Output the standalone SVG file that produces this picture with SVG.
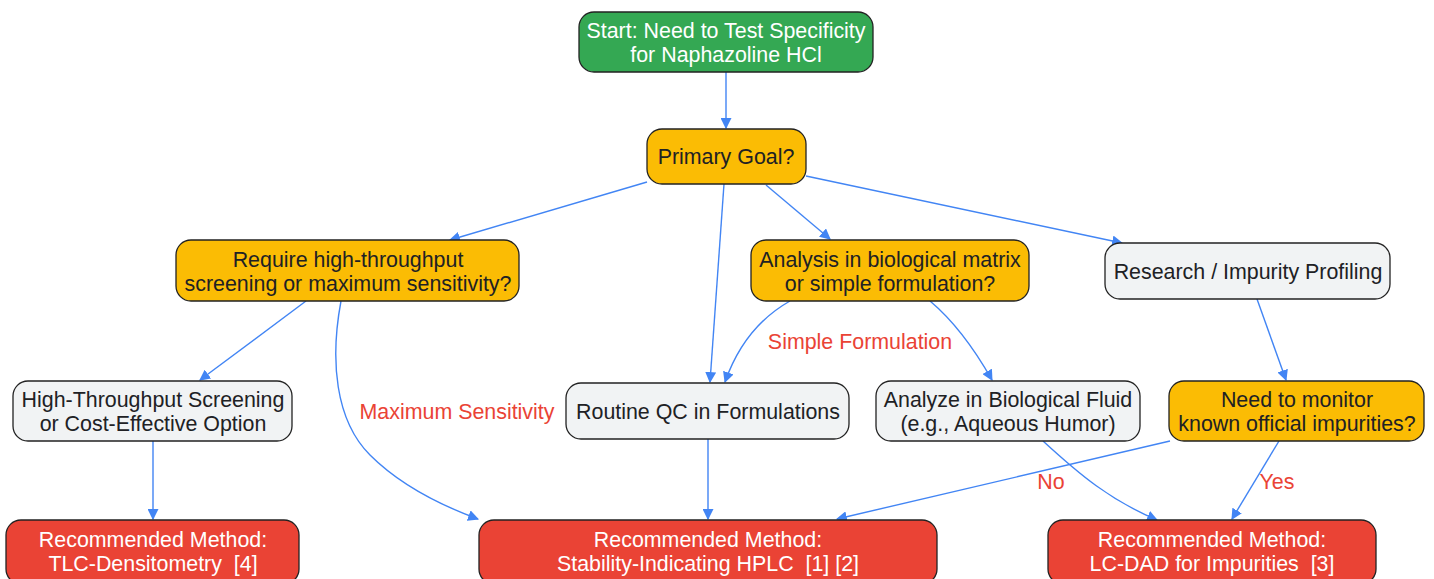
<svg xmlns="http://www.w3.org/2000/svg" width="1434" height="579" viewBox="0 0 1434 579">
<style>
.n{stroke:#222;stroke-width:1.3}
.g{fill:#34a853}.y{fill:#fbbc04}.w{fill:#f1f3f4}.r{fill:#ea4335}
text{font-family:"Liberation Sans",Arial,sans-serif;font-size:21.4px;text-anchor:middle}
.dk{fill:#202124}.lt{fill:#ffffff}
.e{fill:none;stroke:#4285f4;stroke-width:1.4;marker-end:url(#a)}
.lb{fill:#ea4335}
</style>
<defs>
<marker id="a" viewBox="0 0 10 10" refX="9" refY="5" markerWidth="11" markerHeight="11" markerUnits="userSpaceOnUse" orient="auto">
<path d="M0,0 L10,5 L0,10 z" fill="#4285f4"/>
</marker>
</defs>
<g id="connectors">
<path class="e" d="M726,72 L726,128"/>
<path class="e" d="M647,182 L450,240"/>
<path class="e" d="M724,184 L710,382"/>
<path class="e" d="M766,185 L830,239"/>
<path class="e" d="M806,176 L1122,243"/>
<path class="e" d="M306,301 L200,380"/>
<path class="e" d="M341,301 C330,360 335,420 370,455 C400,485 440,505 478,519"/>
<path class="e" d="M790,301 C760,318 738,345 725,382"/>
<path class="e" d="M930,301 C955,322 975,350 992,380"/>
<path class="e" d="M1257,299 L1286,380"/>
<path class="e" d="M153,441 L153,519"/>
<path class="e" d="M708,439 L708,519"/>
<path class="e" d="M1170,441 L837,519"/>
<path class="e" d="M1043,441 C1080,475 1110,500 1157,520"/>
<path class="e" d="M1279,441 L1232,519"/>
<text class="lb" x="457" y="419">Maximum Sensitivity</text>
<text class="lb" x="860" y="349">Simple Formulation</text>
<text class="lb" x="1051" y="489">No</text>
<text class="lb" x="1277" y="489">Yes</text>
</g>
<g id="start"><rect class="n g" x="579" y="12" width="294" height="60" rx="15"/><text class="lt" x="726" y="38">Start: Need to Test Specificity</text><text class="lt" x="726" y="62">for Naphazoline HCl</text></g>
<g id="goal"><rect class="n y" x="647" y="129" width="159" height="55" rx="15"/><text class="dk" x="726" y="164">Primary Goal?</text></g>
<g id="require"><rect class="n y" x="176" y="240" width="343" height="61" rx="15"/><text class="dk" x="348" y="267">Require high-throughput</text><text class="dk" x="348" y="291">screening or maximum sensitivity?</text></g>
<g id="analysis"><rect class="n y" x="751" y="240" width="278" height="61" rx="15"/><text class="dk" x="890" y="267">Analysis in biological matrix</text><text class="dk" x="890" y="291">or simple formulation?</text></g>
<g id="research"><rect class="n w" x="1105" y="243" width="285" height="56" rx="15"/><text class="dk" x="1248" y="279">Research / Impurity Profiling</text></g>
<g id="hts"><rect class="n w" x="13" y="381" width="279" height="60" rx="15"/><text class="dk" x="153" y="407">High-Throughput Screening</text><text class="dk" x="153" y="431">or Cost-Effective Option</text></g>
<g id="routine"><rect class="n w" x="566" y="383" width="283" height="56" rx="15"/><text class="dk" x="708" y="419">Routine QC in Formulations</text></g>
<g id="bio"><rect class="n w" x="876" y="381" width="264" height="60" rx="15"/><text class="dk" x="1008" y="407">Analyze in Biological Fluid</text><text class="dk" x="1008" y="431">(e.g., Aqueous Humor)</text></g>
<g id="monitor"><rect class="n y" x="1169" y="381" width="255" height="60" rx="15"/><text class="dk" x="1297" y="407">Need to monitor</text><text class="dk" x="1297" y="431">known official impurities?</text></g>
<g id="tlc"><rect class="n r" x="6" y="520" width="293" height="64" rx="15"/><text class="lt" x="153" y="547">Recommended Method:</text><text class="lt" x="153" y="571" xml:space="preserve">TLC-Densitometry  [4]</text></g>
<g id="hplc"><rect class="n r" x="479" y="520" width="458" height="64" rx="15"/><text class="lt" x="708" y="547">Recommended Method:</text><text class="lt" x="708" y="571" xml:space="preserve">Stability-Indicating HPLC  [1] [2]</text></g>
<g id="lcdad"><rect class="n r" x="1048" y="520" width="328" height="64" rx="15"/><text class="lt" x="1212" y="547">Recommended Method:</text><text class="lt" x="1212" y="571" xml:space="preserve">LC-DAD for Impurities  [3]</text></g>
</svg>
